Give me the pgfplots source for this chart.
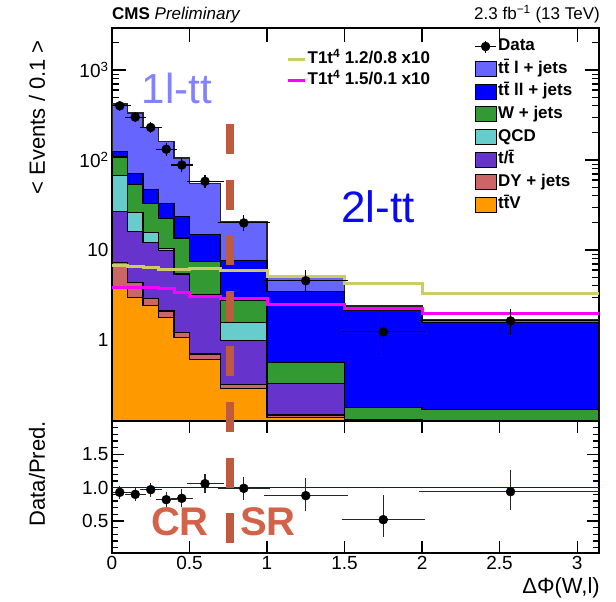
\documentclass[border=0pt]{standalone}
\usepackage{pgfplots}
\pgfplotsset{compat=1.18}
\usepackage{pgfplotstable}
\usepackage{fontspec}
\setmainfont{Liberation Sans}
\definecolor{cTTL}{RGB}{102,102,255}
\definecolor{cTTLL}{RGB}{0,0,255}
\definecolor{cW}{RGB}{51,153,51}
\definecolor{cQCD}{RGB}{102,204,204}
\definecolor{cST}{RGB}{102,51,204}
\definecolor{cDY}{RGB}{204,102,102}
\definecolor{cTTV}{RGB}{255,153,0}
\definecolor{cSigA}{RGB}{204,204,102}
\definecolor{cSigB}{RGB}{255,0,255}
\definecolor{cOneL}{RGB}{130,130,255}
\definecolor{cTwoL}{RGB}{10,10,240}
\definecolor{cCR}{RGB}{210,98,72}
\definecolor{cDash}{RGB}{192,90,62}

% cumulative stack tops per bin (bottom to top: ttV, DY, t/t, QCD, W, tt ll, tt l)
\pgfplotstableread{
x      ttv   dy    st    qcd   w     ttll  ttl
0      0.01  0.01  0.01  0.01  0.01  0.01  0.01
0      3.7   7.2   26.5  68    108   125   420
0.1    2.95  4.4   16    26    54    71.5  333
0.2    2.4   2.9   12    15.6  33    47    230
0.3    1.77  2.1   9.8   10.4  22.6  33    160
0.4    1.07  1.2   5.3   5.5   13.6  23.5  105
0.5    0.61  0.70  3.1   3.2   7.4   15    55
0.7    0.29  0.32  0.98  1.56  2.72  7.6   20.4
1.0    0.137 0.147 0.33  0.33  0.56  3.44  5.1
1.5    0.11  0.12  0.13  0.13  0.18  2.12  2.39
2.0    0.10  0.11  0.128 0.128 0.17  1.56  1.67
3.1416 0.10  0.11  0.128 0.128 0.17  1.56  1.67
3.1416 0.01  0.01  0.01  0.01  0.01  0.01  0.01
}\stacktab

\pgfplotstableread{
x      y
0      6.7
0.1    6.6
0.2    6.4
0.3    6.0
0.4    6.0
0.5    6.3
0.7    5.9
1.0    5.1
1.5    4.2
2.0    3.3
3.1416 3.3
}\sigA

\pgfplotstableread{
x      y
0      3.85
0.1    3.8
0.2    3.8
0.3    3.75
0.4    3.35
0.5    3.05
0.7    2.9
1.0    2.5
1.5    2.25
2.0    1.95
3.1416 1.95
}\sigB

\pgfplotsset{
  boxleg/.style={legend image code/.code={\draw[##1, line width=0.8pt] (0pt,-7.5pt) rectangle (21pt,7.5pt);}},
  lineleg/.style={legend image code/.code={\draw[##1] (0pt,0pt) -- (17pt,0pt);}},
  dataleg/.style={legend image code/.code={
     \draw[black, line width=1pt] (0pt,0pt) -- (21pt,0pt);
     \draw[black, line width=1pt] (10.5pt,-6pt) -- (10.5pt,6pt);
     \fill[black] (10.5pt,0pt) circle (4.5pt);}},
  cmsaxis/.style={
    scale only axis, width=487pt,
    xmin=0, xmax=3.1416,
    tick align=inside,
    major tick length=14pt, minor tick length=7pt,
    axis line style={line width=1.4pt},
    every tick/.append style={black, line width=1.1pt},
    tick label style={font=\fontsize{19}{22}\selectfont},
    xtick={0,0.5,1,1.5,2,2.5,3},
  },
  stk/.style={forget plot, const plot, draw=black, line width=1.1pt},
}

\begin{document}
\begin{tikzpicture}
% ---------------- upper panel ----------------
\begin{axis}[cmsaxis, at={(112pt,181pt)}, anchor=south west, height=393pt,
  ymode=log, ymin=0.126, ymax=2930,
  xticklabel=\empty,
  ytick={1,10,100,1000},
  yticklabels={1,10,10\textsuperscript{2},10\textsuperscript{3}},
  minor ytick={0.2,0.3,0.4,0.5,0.6,0.7,0.8,0.9,2,3,4,5,6,7,8,9,20,30,40,50,60,70,80,90,200,300,400,500,600,700,800,900,2000},
  legend style={at={(0.738,0.982)}, anchor=north west, draw=none, fill=none,
    font=\fontsize{17}{20}\selectfont\bfseries, row sep=4.1pt,
    nodes={inner sep=1.5pt, text height=12pt, text depth=3.5pt}},
  legend cell align=left,
]
\addlegendimage{dataleg}\addlegendentry{Data}
\addlegendimage{boxleg, fill=cTTL, draw=black}\addlegendentry{t\={t} l + jets}
\addlegendimage{boxleg, fill=cTTLL, draw=black}\addlegendentry{t\={t} ll + jets}
\addlegendimage{boxleg, fill=cW, draw=black}\addlegendentry{W + jets}
\addlegendimage{boxleg, fill=cQCD, draw=black}\addlegendentry{QCD}
\addlegendimage{boxleg, fill=cST, draw=black}\addlegendentry{t/\={t}}
\addlegendimage{boxleg, fill=cDY, draw=black}\addlegendentry{DY + jets}
\addlegendimage{boxleg, fill=cTTV, draw=black}\addlegendentry{t\={t}V}

\addplot[stk, fill=cTTL, draw=black!85, line width=1.6pt] table[x=x,y=ttl]{\stacktab};
\addplot[stk, fill=cTTLL] table[x=x,y=ttll]{\stacktab};
\addplot[stk, fill=cW] table[x=x,y=w]{\stacktab};
\addplot[stk, fill=cQCD] table[x=x,y=qcd]{\stacktab};
\addplot[stk, fill=cST] table[x=x,y=st]{\stacktab};
\addplot[stk, fill=cDY] table[x=x,y=dy]{\stacktab};
\addplot[stk, fill=cTTV] table[x=x,y=ttv]{\stacktab};

\addplot[forget plot, const plot, cSigA, line width=3pt] table[x=x,y=y]{\sigA};
\addplot[forget plot, const plot, cSigB, line width=3pt] table[x=x,y=y]{\sigB};

\addplot[forget plot, only marks, mark=*, mark size=4.5pt, black,
  error bars/.cd, x dir=both, x explicit, y dir=both, y explicit,
  error bar style={line width=1.1pt, black},
  error mark options={mark size=3pt, line width=1.1pt, black}]
coordinates {
(0.05,400) +- (0.05,20)
(0.15,300) +- (0.05,17)
(0.25,230) +- (0.05,15)
(0.35,132) +- (0.05,11.5)
(0.45,88) +- (0.05,9.4)
(0.6,58) +- (0.1,5.4)
(0.85,20) +- (0.15,2.6)
(1.25,4.56) +- (0.25,1.0)
(1.75,1.23) += (0.25,0.75) -= (0.25,0.49)
(2.571,1.63) += (0.571,0.43) -= (0.571,0.39)
};
\end{axis}

% ---------------- signal legend (overlay) ----------------
\begin{axis}[at={(112pt,181pt)}, anchor=south west, scale only axis,
  width=487pt, height=393pt, hide axis, xmin=0, xmax=1, ymin=0, ymax=1,
  legend style={at={(0.351,0.949)}, anchor=north west, draw=none, fill=none,
    font=\fontsize{17}{20}\selectfont\bfseries, row sep=2.5pt,
    nodes={inner sep=1.5pt, text height=12pt, text depth=3.5pt}},
  legend cell align=left,
]
\addlegendimage{lineleg, cSigA, line width=3pt}\addlegendentry{T1t\textsuperscript{4} 1.2/0.8 x10}
\addlegendimage{lineleg, cSigB, line width=3pt}\addlegendentry{T1t\textsuperscript{4} 1.5/0.1 x10}
\end{axis}

% ---------------- ratio panel ----------------
\begin{axis}[cmsaxis, at={(112pt,49pt)}, anchor=south west, height=132pt,
  ymin=0.02, ymax=2.0,
  xticklabels={0,0.5,1,1.5,2,2.5,3},
  ytick={0.5,1,1.5}, yticklabels={0.5,1.0,1.5},
  minor ytick={0.1,0.2,0.3,0.4,0.6,0.7,0.8,0.9,1.1,1.2,1.3,1.4,1.6,1.7,1.8,1.9},
  major tick length=12pt, minor tick length=6pt,
]
\addplot[blue, line width=1.5pt] coordinates {(0,1) (3.1416,1)};
\addplot[only marks, mark=*, mark size=4.5pt, black,
  error bars/.cd, x dir=both, x explicit, y dir=both, y explicit,
  error bar style={line width=1.1pt, black!85},
  error mark options={mark size=3pt, line width=1.1pt, black!85}]
coordinates {
(0.05,0.93) +- (0.05,0.05)
(0.15,0.90) +- (0.05,0.05)
(0.25,0.97) +- (0.05,0.06)
(0.35,0.82) +- (0.05,0.07)
(0.45,0.84) +- (0.05,0.09)
(0.6,1.06) +- (0.1,0.10)
(0.85,0.99) +- (0.15,0.13)
(1.25,0.88) += (0.25,0.22) -= (0.25,0.19)
(1.75,0.52) += (0.25,0.32) -= (0.25,0.21)
(2.571,0.94) += (0.571,0.28) -= (0.571,0.23)
};
\end{axis}

% ---------------- texts ----------------
\node[anchor=base west, font=\fontsize{17}{20}\selectfont, inner sep=0pt] at (112pt,582pt) {\textbf{CMS} \textit{Preliminary}};
\node[anchor=base east, font=\fontsize{17}{20}\selectfont, inner sep=0pt] at (600pt,582pt) {2.3 fb\textsuperscript{−1} (13 TeV)};
\node[rotate=90, anchor=east, font=\fontsize{22}{26}\selectfont, inner sep=0pt] at (37pt,562pt) {< Events / 0.1 >};
\node[rotate=90, anchor=east, font=\fontsize{22}{26}\selectfont, inner sep=0pt] at (37pt,181pt) {Data/Pred.};
\node[anchor=base east, font=\fontsize{22}{26}\selectfont, inner sep=0pt] at (600pt,8pt) {ΔΦ(W,l)};

\node[text=cOneL, font=\fontsize{42}{46}\selectfont, inner sep=0pt] at (177pt,514pt) {1l-tt};
\node[text=cTwoL, font=\fontsize{44}{48}\selectfont, inner sep=0pt] at (378pt,395pt) {2l-tt};
\node[text=cCR, font=\fontsize{40}{44}\selectfont\bfseries, inner sep=0pt] at (180pt,80pt) {CR};
\node[text=cCR, font=\fontsize{40}{44}\selectfont\bfseries, inner sep=0pt] at (268pt,80pt) {SR};

\draw[cDash, line width=8pt, dash pattern=on 30pt off 25.6pt] (230pt,478pt) -- (230pt,58pt);

\pgfresetboundingbox
\useasboundingbox (0pt,0pt) rectangle (616pt,602pt);
\end{tikzpicture}
\end{document}
